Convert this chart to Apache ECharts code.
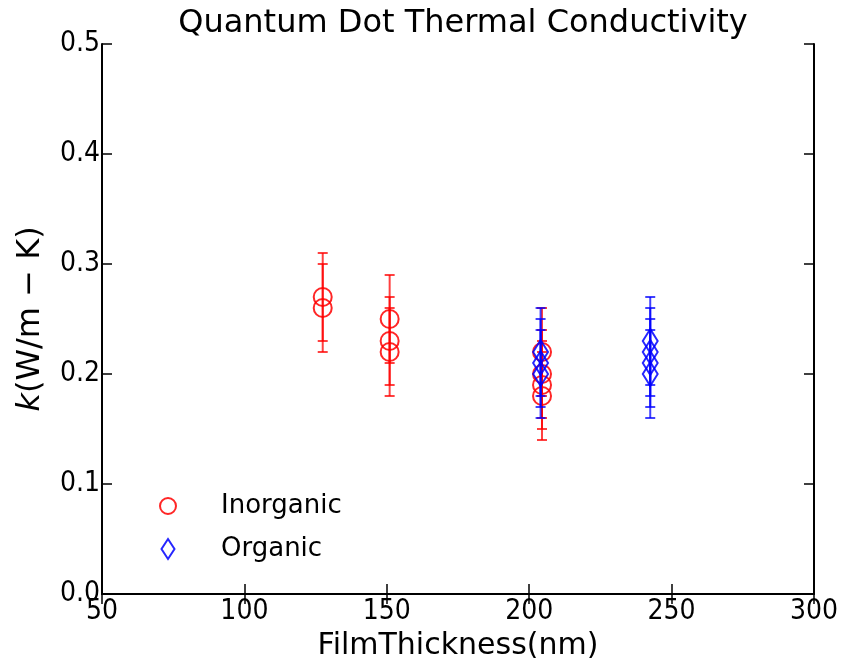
<!DOCTYPE html>
<html><head><meta charset="utf-8">
<script src="https://cdn.jsdelivr.net/npm/echarts@6/dist/echarts.min.js"></script>
<style>html,body{margin:0;padding:0;background:#fff;overflow:hidden}#c{width:845px;height:668px}</style>
</head><body><div id="c"></div>
<script>
var inorgX = [127.5, 127.5, 151, 151, 151, 204.5, 204.5, 204.5, 204.5];
var inorgY = [0.27, 0.26, 0.25, 0.23, 0.22, 0.22, 0.20, 0.19, 0.18];
var inorgErr = [0.04, 0.04, 0.04, 0.04, 0.04, 0.04, 0.04, 0.04, 0.04];
var orgX = [204, 204, 204, 242.5, 242.5, 242.5, 242.5];
var orgY = [0.22, 0.21, 0.20, 0.23, 0.22, 0.21, 0.20];
var orgErr = [0.04, 0.04, 0.04, 0.04, 0.04, 0.04, 0.04];
var xTicks = [50, 100, 150, 200, 250, 300];
var yTicks = [0.0, 0.1, 0.2, 0.3, 0.4, 0.5];

var FONTC = "'DejaVu Sans Condensed','Liberation Sans Narrow',sans-serif";
var FONT = "'DejaVu Sans',sans-serif";

function pts(xs, ys) { return xs.map(function (x, i) { return [x, ys[i]]; }); }
function errData(xs, ys, es) { return xs.map(function (x, i) { return [x, ys[i] - es[i], ys[i] + es[i]]; }); }
function errRender(color) {
  return function (params, api) {
    var lo = api.coord([api.value(0), api.value(1)]);
    var hi = api.coord([api.value(0), api.value(2)]);
    var w = 5;
    var st = { stroke: color, lineWidth: 2, opacity: 0.75 };
    return { type: 'group', children: [
      { type: 'line', shape: { x1: lo[0], y1: lo[1], x2: hi[0], y2: hi[1] }, style: st },
      { type: 'line', shape: { x1: lo[0] - w, y1: lo[1], x2: lo[0] + w, y2: lo[1] }, style: st },
      { type: 'line', shape: { x1: hi[0] - w, y1: hi[1], x2: hi[0] + w, y2: hi[1] }, style: st }
    ]};
  };
}
var diamond = 'path://M0,-10 L6.5,0 L0,10 L-6.5,0 Z';

var chart = echarts.init(document.getElementById('c'));
var axisLine = { show: true, lineStyle: { color: '#000', width: 2 } };
var tick = { show: true, inside: true, length: 10, lineStyle: { color: '#000', width: 1.5 } };
chart.setOption({
  animation: false,
  title: { text: 'Quantum Dot Thermal Conductivity', left: 458, top: 3, textAlign: 'center',
    textStyle: { fontFamily: FONT, fontSize: 32, fontWeight: 'normal', color: '#000' } },
  grid: { left: 102, top: 44, width: 712, height: 550 },
  legend: {
    left: 154, top: 488, orient: 'vertical', itemGap: 17, itemWidth: 16, itemHeight: 20,
    textStyle: { fontFamily: FONT, fontSize: 26, color: '#000', padding: [0, 0, 0, 40] },
    data: [
      { name: 'Inorganic', icon: 'circle', itemStyle: { color: 'rgba(0,0,0,0)', borderColor: '#ff0000', borderWidth: 2 } },
      { name: 'Organic', icon: diamond, itemStyle: { color: 'rgba(0,0,0,0)', borderColor: '#0000ff', borderWidth: 2 } }
    ]
  },
  xAxis: [
    { type: 'value', min: 50, max: 300, interval: 50, axisLine: axisLine, axisTick: tick, splitLine: { show: false },
      name: 'FilmThickness(nm)', nameLocation: 'middle', nameGap: 33,
      nameTextStyle: { fontFamily: FONT, fontSize: 30, color: '#000' },
      axisLabel: { fontFamily: FONTC, fontSize: 28, color: '#000', margin: 4 } },
    { type: 'value', position: 'top', min: 50, max: 300, interval: 50, axisLine: axisLine, axisTick: tick,
      splitLine: { show: false }, axisLabel: { show: false } }
  ],
  yAxis: [
    { type: 'value', min: 0, max: 0.5, interval: 0.1, axisLine: axisLine, axisTick: tick, splitLine: { show: false },
      name: '{i|k}(W/m \u2212 K)', nameLocation: 'middle', nameGap: 55,
      nameTextStyle: { fontFamily: FONT, fontSize: 32, color: '#000', rich: { i: { fontFamily: FONT, fontSize: 32, fontStyle: 'italic' } } },
      axisLabel: { fontFamily: FONTC, fontSize: 28, color: '#000', margin: 2, padding: [0, 0, 6, 0], formatter: function (v) { return v.toFixed(1); } } },
    { type: 'value', position: 'right', min: 0, max: 0.5, interval: 0.1, axisLine: axisLine, axisTick: tick,
      splitLine: { show: false }, axisLabel: { show: false } }
  ],
  series: [
    { type: 'custom', name: 'inorgErr', renderItem: errRender('#ff0000'), data: errData(inorgX, inorgY, inorgErr), z: 2, silent: true },
    { type: 'scatter', name: 'Inorganic', data: pts(inorgX, inorgY), symbol: 'circle', symbolSize: 18, z: 3,
      itemStyle: { color: 'rgba(0,0,0,0)', borderColor: '#ff0000', borderWidth: 2, opacity: 0.85 } },
    { type: 'custom', name: 'orgErr', renderItem: errRender('#0000ff'), data: errData(orgX, orgY, orgErr), z: 4, silent: true },
    { type: 'scatter', name: 'Organic', data: pts(orgX, orgY), symbol: diamond, symbolSize: [15, 24], z: 5,
      itemStyle: { color: 'rgba(0,0,0,0)', borderColor: '#0000ff', borderWidth: 2, opacity: 0.85 } }
  ]
});
</script></body></html>
